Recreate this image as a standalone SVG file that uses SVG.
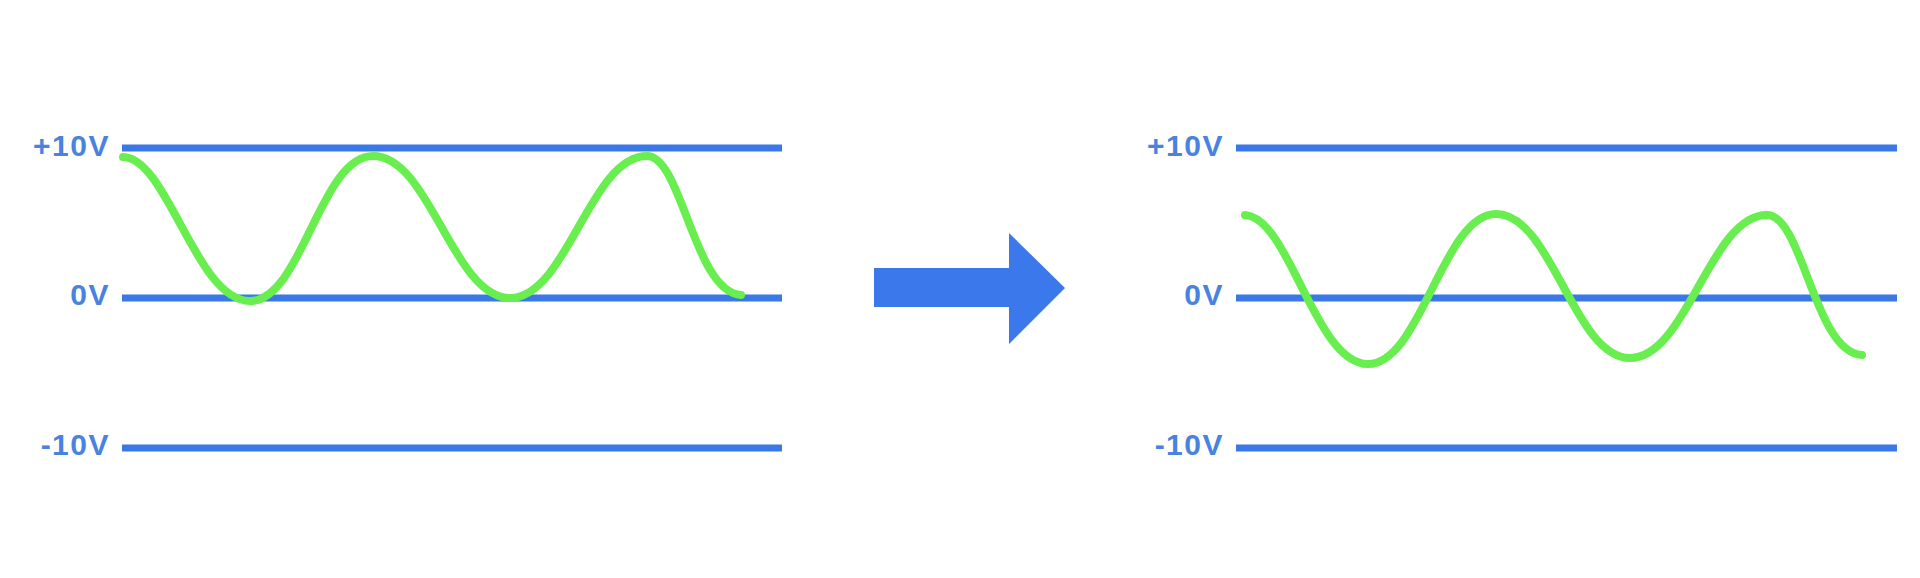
<svg xmlns="http://www.w3.org/2000/svg" width="1920" height="578" viewBox="0 0 1920 578">
  <style>
    .axis { stroke: #3a78e8; stroke-width: 7; fill: none; }
    .wave { stroke: #68ee4e; stroke-width: 8; stroke-linecap: round; stroke-linejoin: round; fill: none; }
    .arrow { fill: #3a78ec; }
    .lbl { font-family: "Liberation Sans", Arial, sans-serif; font-size: 30px; font-weight: bold; fill: #4a82e0; text-anchor: end; letter-spacing: 1.5px; }
  </style>
  <rect width="1920" height="578" fill="#ffffff"/>

  <g id="left-panel">
    <line class="axis" x1="122" y1="148" x2="782" y2="148"/>
    <line class="axis" x1="122" y1="298" x2="782" y2="298"/>
    <line class="axis" x1="122" y1="448" x2="782" y2="448"/>
    <text class="lbl" x="110" y="156">+10V</text>
    <text class="lbl" x="110" y="305">0V</text>
    <text class="lbl" x="110" y="455">-10V</text>
    <path class="wave" d="M123,157 C168,158 196,301 250,301 C302,301 320,156 373,156 C430,156 453,298 510,298 C567,298 590,156 647,156 C682,156 694,292 741,295"/>
  </g>

  <g id="arrow">
    <polygon class="arrow" points="874,268 1009,268 1009,233 1065,288 1009,344 1009,307 874,307"/>
  </g>

  <g id="right-panel">
    <line class="axis" x1="1236" y1="148" x2="1897" y2="148"/>
    <line class="axis" x1="1236" y1="298" x2="1897" y2="298"/>
    <line class="axis" x1="1236" y1="448" x2="1897" y2="448"/>
    <text class="lbl" x="1224" y="156">+10V</text>
    <text class="lbl" x="1224" y="305">0V</text>
    <text class="lbl" x="1224" y="455">-10V</text>
    <path class="wave" d="M1245,215 C1290,218 1315,364 1368,364 C1421,364 1443,214 1496,214 C1552,214 1574,358 1630,358 C1687,358 1710,215 1767,215 C1803,215 1814,352 1862,355"/>
  </g>
</svg>
